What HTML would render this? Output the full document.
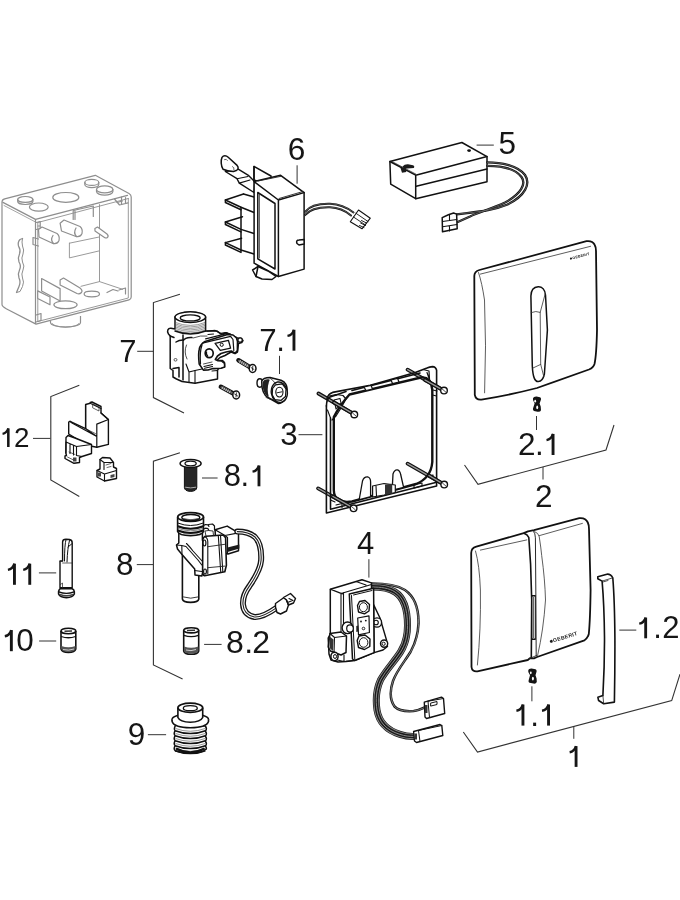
<!DOCTYPE html>
<html><head><meta charset="utf-8">
<style>
html,body{margin:0;padding:0;background:#fff;}
body{width:680px;height:900px;overflow:hidden;font-family:"Liberation Sans",sans-serif;}
svg{display:block;will-change:transform;}
.t{font-family:"Liberation Sans",sans-serif;fill:#161616;}
.one{stroke:#161616;fill:none;stroke-linecap:butt;}
.ld{stroke:#333;stroke-width:1;fill:none;}
.br{stroke:#333;stroke-width:1.1;fill:none;}
.k{stroke:#111;stroke-width:1.5;fill:#fff;stroke-linejoin:round;stroke-linecap:round;}
.kn{stroke:#111;stroke-width:1.5;fill:none;stroke-linejoin:round;stroke-linecap:round;}
.th{stroke:#222;stroke-width:0.7;fill:none;stroke-linecap:round;stroke-linejoin:round;}
.g{stroke:#8e8e8e;stroke-width:1.2;fill:#fff;stroke-linejoin:round;}
.gn{stroke:#8e8e8e;stroke-width:1.2;fill:none;stroke-linejoin:round;stroke-linecap:round;}
</style></head>
<body>
<svg width="680" height="900" viewBox="0 0 680 900">
<!-- LEADERS -->
<g class="ld">
<path d="M297.1 165.3V183.7"/>
<path d="M476.6 145.1H493.8"/>
<path d="M137.2 351.3H153.4"/>
<path d="M279.5 355.8V374"/>
<path d="M298.5 434.7H322.4"/>
<path d="M33 438.4H50.5"/>
<path d="M536.5 416V430"/>
<path d="M543 467V479.5"/>
<path d="M202 478H217.6"/>
<path d="M136.8 564.6H153.1"/>
<path d="M38.9 572.9H56.2"/>
<path d="M39.1 641H56.2"/>
<path d="M368.9 559.2V577.6"/>
<path d="M619.3 630.1H636.3"/>
<path d="M204.1 644.4H221.6"/>
<path d="M531.9 686.3V701.3"/>
<path d="M573.8 726.3V738.8"/>
<path d="M147.9 734.7H166.1"/>
</g>
<!-- BRACKETS -->
<g class="br">
<path d="M179.9 294.2L153.4 302.6V397.6L184 413"/>
<path d="M79.3 385.3L50.8 396.6V480L79.3 496.5"/>
<path d="M179.9 452.8L153.4 461.2V665L182.6 679"/>
<path d="M464.5 465L478 484.25L606 450L614 425"/>
<path d="M463.3 732L477.5 752L671.7 700.6L680 674.2"/>
</g>
<!-- GREY JUNCTION BOX -->
<g id="jbox">
<path class="g" d="M2 304.6V202 Q2 199.5 4.7 198.8 L95.3 175.3 L129 193.5 Q131.2 194.7 131.2 197 V297 Q131.2 299.2 129 299.8 L36 324.1 L6.2 308.7 Q2 306.5 2 304.6Z"/>
<path class="gn" d="M2.9 202.4L35.5 219.4L127.5 195.4"/>
<path class="gn" style="stroke-width:0.8" d="M4 205.5L35.5 222"/>
<path class="gn" d="M35.5 219.5V323.5"/>
<path class="gn" style="stroke-width:0.9" d="M37.8 222.5V321.5L128.3 298V198.5"/>
<path class="gn" style="stroke-width:0.9" d="M37.8 222.5L128.3 198.5"/>
<path class="gn" style="stroke-width:0.9" d="M99.5 204.6V281.6"/>
<path class="gn" style="stroke-width:0.9" d="M81 286.3L99.5 281.6L122.6 289.3"/>
<!-- top holes -->
<ellipse class="g" cx="25.3" cy="199.4" rx="7.6" ry="2.9"/>
<path class="gn" d="M17.7 199.4v2.2a7.6 2.9 0 0 0 15.2 0v-2.2"/>
<ellipse class="g" cx="38.8" cy="207.1" rx="9.4" ry="4.1"/>
<ellipse class="g" cx="65.8" cy="197.4" rx="13" ry="4.9"/>
<ellipse class="g" cx="91.8" cy="182.4" rx="7" ry="3"/>
<path class="gn" d="M84.8 182.4v2.2a7 3 0 0 0 14 0v-2.2"/>
<ellipse class="g" cx="104.7" cy="189.4" rx="8.2" ry="3.5"/>
<path class="gn" d="M96.5 189.4v2.2a8.2 3.5 0 0 0 16.4 0v-2.2"/>
<!-- corner tabs -->
<path class="gn" d="M114.5 199l5 6l8.5 -2.2M121.5 197v7M125.5 197.5v6"/>
<path class="gn" d="M36.2 222.5l4 -1v7l-4 1M38 226l2.2 0"/>
<path class="gn" d="M117 202.5l5.5 -1.5"/>
<!-- upper tab -->
<path class="gn" d="M73.2 219.5V210.5L93.3 206V216.5M75 211v8.5"/>
<!-- pegs -->
<path class="g" d="M38.5 229.5L42 227L57 233.5Q60 236 59 240.5Q57.5 244.5 53 243.5L39 237Z"/>
<path class="gn" d="M53.5 243.5Q50 240 53 235.5"/>
<path class="gn" d="M33 237.5V244.5L38.5 246M33 237.5L38.5 239"/>
<path class="g" d="M60.1 223.2L64 220L80 226.5Q83 229 82 233.5Q80.5 237.5 76 236.5L61.5 231Z"/>
<path class="gn" d="M76.5 236.5Q73 233 76 228"/>
<path class="g" d="M94.9 228.6L97.5 227L107 234Q109 236 107.5 237.5Q106 238.5 104.5 237.5L95 231Z"/>
<path class="gn" style="stroke-width:0.9" d="M69.4 243.2L98.7 237.1M69.4 243.2V257.9L98.7 251"/>
<!-- side zigzag clip -->
<path class="gn" style="stroke-width:1.3" d="M22.5 238.5L20 239.5Q17.5 242 18.5 246Q21 250 19.5 254Q17.5 258 19 262Q21.5 266 19.5 270Q17.5 274 19 278Q21 282 19 286.5L17.5 290L16.5 292.5"/>
<path class="gn" style="stroke-width:1" d="M22.5 238.5Q21.5 242 22.5 246Q24.5 250 23 254Q21 258 22.5 262Q25 266 23 270Q21 274 22.5 278Q24.5 282 22.5 286.5L20 291.5L16.5 292.5"/>
<!-- bottom floor parts -->
<path class="g" d="M41.6 278.5L60.1 288.6V301L41.6 291Z"/>
<path class="g" d="M37.7 290.9L50 297V304.8L37.7 298.5Z"/>
<path class="g" d="M60.1 280L63.5 278L80 288Q83 290.5 81.5 292.5Q79.5 294.5 77 293.5L60.1 285Z"/>
<ellipse class="g" cx="65.5" cy="304.8" rx="11.6" ry="3.9"/>
<ellipse class="g" cx="91.8" cy="294" rx="7.7" ry="2.8"/>
<path class="gn" d="M107 292.5l6 -3l5 1.5M119 290l6.5 -2v6"/>
<path class="gn" d="M36 315l5 -1.5v7l-5 1.5"/>
<path class="g" d="M50.5 321v1.5a15 4.6 0 0 0 30 0v-6.5"/>
<path class="gn" style="stroke-width:0.9" d="M52 323.5a13.5 3.5 0 0 0 27 0"/>
</g>
<!-- BATTERY 5 -->
<g id="bat">
<path class="k" d="M389.9 161.5L461.9 142.5L487 156.6V181.7L415.7 198.7L390.7 184.1Z"/>
<path class="kn" d="M389.9 161.5L415.7 175.2L487 156.6M415.7 175.2V198.7"/>
<path class="th" d="M392 161.5L415.7 174"/>
<path class="kn" style="stroke-width:1.5" d="M416.2 186.3L487 169"/>
<ellipse cx="469.1" cy="150.6" rx="1.9" ry="1.3" fill="#111"/>
<path d="M402.5 166.5Q404.5 164 408 164.2L413 165.2Q415 166 413.8 168L404.5 168.8Z" fill="#1a1a1a"/><path d="M400.5 168L405.5 167.2L406.3 172L402 172.8Z" fill="#1a1a1a"/>
<g fill="none" stroke-linecap="round">
<path d="M487.2 162.3C501 162.3 518 165.5 525 175C531 184 525 196 507.5 204.5C492 211 476 211.8 456.6 214.3" stroke="#111" stroke-width="2.3"/>
<path d="M487.2 165.8C500 165.8 515 168.5 521.5 177C526.5 184 521 194 505 202.5C492 208.5 478 212.5 470 216.5L456.6 222.5" stroke="#111" stroke-width="2.3"/>
<path d="M487.2 162.3C501 162.3 518 165.5 525 175C531 184 525 196 507.5 204.5C492 211 476 211.8 456.6 214.3" stroke="#888" stroke-width="0.6"/>
<path d="M487.2 165.8C500 165.8 515 168.5 521.5 177C526.5 184 521 194 505 202.5C492 208.5 478 212.5 470 216.5L456.6 222.5" stroke="#888" stroke-width="0.6"/>
</g>
<path class="k" style="stroke-width:1.5" d="M442.2 217.6L448.4 214.7L453.6 213L456.6 214.1L457.2 228.8L442.5 231.8Z"/>
<path class="kn" style="stroke-width:1.1" d="M442.5 221.5L456.8 219.5M442.5 226.8L457 224.5M449.5 215.3V220.5M449.5 226V231"/>
</g>
<!-- COMPONENT 6 -->
<g id="c6">
<!-- back vertical panel & arm -->
<path class="k" d="M254 166.5L271 176L271 186L254 180Z"/>
<path class="kn" d="M254 166.5V180"/>
<!-- fins -->
<g class="kn">
<path d="M225.4 200L243.5 194M225.4 200L241 207.3L254 212.5"/>
<path d="M225.4 200V202.5L241 209.8"/>
<path d="M225.4 222L242.5 216.7M225.4 222L241 229.4L254 233.5"/>
<path d="M225.4 222V224.5L241 231.9"/>
<path d="M225.4 242.6L241.6 238.2M225.4 242.6L241 250L254 254"/>
<path d="M225.4 242.6V245L241 252.4"/>
<path d="M241 207.3V251.5"/>
<path d="M243.5 194L254 197"/>
</g>
<!-- arm / latch on top -->
<path class="k" style="stroke-width:1.4" d="M225.3 171.5L237 168.4L248.8 175.7L254.5 181.6L254 192.5L239.3 183.1L237 178.7Z"/>
<path class="kn" style="stroke-width:1.1" d="M237 178.7L248 176.5M239.3 183.1L250 180"/>
<path class="k" style="stroke-width:1.5" d="M222 157.4C223.5 155.3 226 155.2 228.2 157.2L237.1 165.4C238.6 167 238.4 169.2 236.8 170.2L233.4 171.6C230 171.4 226.2 170.7 223 169.2C221 166 220.6 160.5 222 157.4Z"/>
<path class="th" d="M224.5 159.5q2 -1 3 1M232.5 166.5q2 0.5 1.5 3.5"/>
<!-- main box -->
<path class="k" d="M254.1 181.6L280.6 175.3L304.1 192.6V269.1L278.4 276.5L254.1 263.2Z"/>
<path class="kn" d="M254.1 181.6L278.4 200L304.1 192.6M278.4 200V276.5"/>
<path class="th" style="stroke-width:0.9" d="M258 181L281 176.3M279 198.5L303 191.5"/>
<!-- front opening -->
<path class="kn" d="M257.8 192.5L275 203.5V269L257.8 258.8Z"/>
<path class="th" d="M259.5 193.5V258"/>
<!-- foot -->
<path class="k" d="M252.6 270L258 266.5L268 271L276 276.5L272 279.5L262 279L256 276.5Z"/>
<path class="kn" d="M258 266.5L256 276.5"/>
<!-- pin on right -->
<path class="k" d="M297 243.5C296 241 297 240 299 240L304.1 239.5V244L299 245Z"/>
<!-- cable -->
<g fill="none" stroke-linecap="round">
<path d="M305 211.8C310 205.5 318 203.5 330 203.8C340 204.2 347 207.5 353.5 212.5" stroke="#111" stroke-width="2"/>
<path d="M305 215.2C310 209 318 207 330 207.3C339 207.6 345 210.5 351 215.5" stroke="#111" stroke-width="2"/>
<path d="M305 211.8C310 205.5 318 203.5 330 203.8C340 204.2 347 207.5 353.5 212.5" stroke="#999" stroke-width="0.5"/>
<path d="M305 215.2C310 209 318 207 330 207.3C339 207.6 345 210.5 351 215.5" stroke="#999" stroke-width="0.5"/>
</g>
<path class="k" style="stroke-width:1.1" d="M350.3 221.8L358.5 210L370.3 218.2L362 228.8Z"/>
<path class="kn" style="stroke-width:0.9" d="M353.5 217L365.5 225M356 213.3L368 221.5M361.5 220.5l5 2.5M360.5 223l5 2.5M359.5 225.5l4.5 2"/>
</g>
<!-- COMPONENT 7 valve -->
<g id="c7">
<path class="k" style="stroke-width:1.5" d="M168.5 334C166.5 331 168 328 171 328.3L175 329V317.1A15.4 5.4 0 0 1 205.6 317.1V331L206.7 330.9L216.8 330.9L221.4 334.4L226.1 332.8L231.5 335.2L237.4 337.9L240.9 338.2L243 340.5L241.7 342.5L238.5 343.5L237.5 352L235 353.5L231 352L225 355.5L220 357.5L216.5 360.5L222.5 360.5L224.5 362.5L224.5 366.7L218.5 368.5L217.5 370.5V379L195 383.2L182 381.5L176.5 379L173 377V370.5L170.2 368.5V336Z"/>
<ellipse cx="190.3" cy="317.1" rx="15.3" ry="5.3" fill="#fff" stroke="#111" stroke-width="1.5"/>
<ellipse cx="190.2" cy="317.9" rx="10" ry="3" fill="#fff" stroke="#111" stroke-width="1.3"/>
<g class="th" style="stroke:#555;stroke-width:0.6">
<path d="M175.5 322.5Q190.3 328.5 205 322.5M175.5 324Q190.3 330 205 324M175.5 325.5Q190.3 331.5 205 325.5M175.5 327Q190.3 333 205 327M175.5 328.5Q190.3 334.5 205 328.5M175.5 330Q190.3 336 205 330"/>
</g>
<path class="kn" d="M175 331Q190.3 337 205.6 331"/>
<path class="kn" d="M170.2 336L174 337.5M183 335V380M183 341Q185 337 192 337.5"/>
<path class="kn" d="M176 342Q179 340 183 340"/>
<path class="th" style="stroke-width:0.8" d="M186.5 345Q183.5 352 187 359M193 338Q201 335 207 336"/>
<ellipse cx="175.5" cy="359.8" rx="1.5" ry="1.3" fill="none" stroke="#333" stroke-width="0.8"/>
<path class="kn" d="M173 368.5L179 367.5V377"/>
<!-- latch plate -->
<path class="k" style="stroke-width:1.6" d="M199.2 364C198.5 358 198.4 353 199.2 349.5C200 345.5 202 343 205 341.5L227.5 334.5L233 335L236.5 338L237.5 341.5L237.4 350.5L235 353.3L231.3 351L226 352L221 353.5L217.5 356L215.3 359.5L218 360.8L221.5 361L224.5 363.5L224.7 367L221 368.2L214 368.6L212.9 368.6L208 370L203.4 370.1Z"/>
<path class="kn" style="stroke-width:1.2" d="M205.6 338.9L227.6 333.4M203.4 342.9L230.6 336.3M230.6 336.3L233 339.5L233.8 350.5M202 345Q199.5 352 200.5 364"/>
<path class="kn" style="stroke-width:1.3" d="M215.1 343.3L228.4 340.3L230.6 348.1L220.3 350.3Z"/>
<circle cx="221.7" cy="344.8" r="1.6" fill="#fff" stroke="#111" stroke-width="1"/>
<ellipse cx="209.2" cy="353.2" rx="4" ry="4.4" fill="#fff" stroke="#111" stroke-width="1.7"/>
<path d="M206.5 351.5Q206 355 208 356.5" stroke="#111" stroke-width="1.2" fill="none"/>
<path class="kn" style="stroke-width:1.1" d="M204 366.5L212.5 364.5M204.5 368.3L212.5 366.5"/>
<path class="th" style="stroke-width:0.8" d="M203.5 364L212 362"/>
<circle cx="240.1" cy="340" r="2.2" fill="#fff" stroke="#111" stroke-width="1.3"/>
<path class="kn" style="stroke-width:1.1" d="M195 370.5L202 369M195 370.5V383M217.5 370.5L212 371"/>
<path class="kn" style="stroke-width:1.1" d="M189 372V382M186 364L189 372L195 370.5"/>
<path class="kn" style="stroke-width:1.1" d="M207 331.1L215.1 330.4L221 333.4L225.4 332.6L230.6 334.1M208 334.5L213.5 334"/>
</g>
<!-- SCREWS for 7 -->
<g id="scr7">
<path d="M238.5 360.3L250.3 367.4" stroke="#111" stroke-width="4.6" stroke-linecap="round"/>
<path d="M239 360.8L249.8 367.3" stroke="#666" stroke-width="2" stroke-linecap="round"/>
<path class="th" style="stroke:#eee;stroke-width:0.7" d="M240.5 360.3l-0.9 2M242.3 361.4l-0.9 2M244.1 362.5l-0.9 2M245.9 363.6l-0.9 2M247.7 364.7l-0.9 2"/>
<ellipse cx="252.6" cy="368.5" rx="3.4" ry="4" fill="#fff" stroke="#111" stroke-width="1.5"/>
<path class="th" style="stroke-width:0.9" d="M251 367.5l3 2M252.8 366.3l-0.4 4.2"/>
<path d="M220.9 386.8L233.8 393.8" stroke="#111" stroke-width="4.6" stroke-linecap="round"/>
<path d="M221.4 387.3L233.3 393.7" stroke="#666" stroke-width="2" stroke-linecap="round"/>
<path class="th" style="stroke:#eee;stroke-width:0.7" d="M223 386.8l-0.9 2M224.8 387.8l-0.9 2M226.6 388.8l-0.9 2M228.4 389.8l-0.9 2M230.2 390.8l-0.9 2"/>
<ellipse cx="236.2" cy="395" rx="3.4" ry="4" fill="#fff" stroke="#111" stroke-width="1.5"/>
<path class="th" style="stroke-width:0.9" d="M234.6 394l3 2M236.4 392.8l-0.4 4.2"/>
</g>
<!-- NOZZLE 7.1 -->
<g id="c71">
<ellipse cx="259.8" cy="383" rx="2.8" ry="4.2" fill="#fff" stroke="#111" stroke-width="1.4"/>
<path class="k" style="stroke-width:1.5" d="M261.8 381C263 378 266 377.5 270 377.5L281 380.3C285 382 287.5 386 287 391C286.5 398 283 403.5 278.5 403.5L268 397.5C263.5 395 261.5 390 261.8 381Z"/>
<path d="M262.8 382C264 379.5 266 379 268.5 379.2L269.8 379.8C267.5 385 267 391 268.8 396.8L267.5 396.2C264 394 262.3 389 262.8 382Z" fill="#222"/>
<ellipse cx="279.3" cy="392.2" rx="8" ry="10.3" fill="#fff" stroke="#111" stroke-width="1.4" transform="rotate(-10 279.3 392.2)"/>
<path class="kn" style="stroke-width:1.2" d="M275.5 384.8L282.3 383.8L286 388.8L285.5 396.5L281.2 400.3L274.8 399.6L272.2 394.8L272.6 388.4Z"/>
<ellipse cx="279.4" cy="392.1" rx="3.6" ry="4.9" fill="#fff" stroke="#111" stroke-width="1.1"/>
<path class="th" style="stroke-width:1" d="M277 392.8L282 391.8"/>
<path class="th" style="stroke-width:0.8" d="M270.5 378.5Q273.5 380 275.5 384M266 397.5Q270 400 274.8 399.6"/>
</g>
<!-- COMPONENT 12 -->
<g id="c12">
<path class="k" style="stroke-width:1.4" d="M85.6 404.5L90.2 403.3V402.5L92 402L101 406.5V413L108.4 419.5V444.4L96.8 447.3L90.5 446L86 444.5L68.7 434V422L70 421.3L85.6 428.6Z"/>
<path class="kn" style="stroke-width:1.2" d="M85.6 404.5V428.6M90.2 403.3L101 408.5M101 413L108.4 419.5M96.8 424.1L108.4 419.5M96.8 424.1V436.5M85.6 428.6L96.8 436.5M70 421.3L72 423L96.8 436.5M96.8 436.5V447.3"/>
<path class="th" d="M86.5 429.2L95.5 433.6M93 404l6 3v4l-6 -3z"/>
<!-- lower block -->
<path class="k" style="stroke-width:1.4" d="M66 437.5L68 435.5L75 438L80 440L91.5 444.5V453.5L82 456.5L79.5 457.5V462.5L74 463.3L65 458.5V456L66.5 455.5L65.8 453Z"/>
<path class="kn" style="stroke-width:1.1" d="M66 442L76.5 446.5L91.5 444.5M76.5 446.5V455.5L82 456.5M66 442V453M70 444.5V453.5M73.5 446V455"/>
<path class="th" d="M69 452l6 2.5M67.5 457l6 3"/>
<rect x="73" y="457.5" width="3.5" height="4" fill="#444"/>
<!-- small piece -->
<path class="k" style="stroke-width:1.4" d="M100 459.5L102.5 457.5L110 458L113.5 462.5V467L116.5 468.5V478.5L104.5 481L97 477V470.5L100 469Z"/>
<path class="kn" style="stroke-width:1.1" d="M97 470.5L104.5 474L116.5 470.5M104.5 474V481M100 459.5L104 462.5V469.5M104 462.5L113.5 462.5"/>
<path class="th" d="M106 465l5 -1.5M107 467.5l4 -1"/>
<rect x="98" y="472.5" width="3" height="4" fill="#444"/>
<path d="M110.5 475l4 -1v3l-4 1z" fill="#444"/>
</g>
<!-- FRAME 3 -->
<g id="c3">
<!-- back screws (behind) -->
<g stroke-linecap="round">
<path d="M318.5 393.5L353.8 414.1M407.6 369.7L443.5 390.3M318.1 488.4L353.1 507.9M407.6 463.7L443.7 484.3" stroke="#111" stroke-width="3.8"/>
<path d="M318.5 393.5L353.8 414.1M407.6 369.7L443.5 390.3M318.1 488.4L353.1 507.9M407.6 463.7L443.7 484.3" stroke="#999" stroke-width="1.4"/>
</g>
<!-- outer frame -->
<g class="kn" style="stroke-width:1.6">
<path d="M326.4 405.9V513L436.6 486V370.3Q435.8 366.8 432.5 366.6Q429.5 366.8 427 368L415.3 372.6L395 378.2L370.3 385.3L332.6 392.4Q328 394 327 398.5"/>
<path d="M330.5 418V509.3L436.6 482.2"/>
<path d="M326.4 405.9Q326.5 399 330 397L336 395"/>
<path d="M336 395L346 391.5M352 390.5L420 373"/>
</g>
<path class="kn" style="stroke-width:1.1" d="M327.5 410L330.5 418M330.5 500L335 502"/>
<!-- rod loop -->
<path d="M349.5 394.5L421 377.5Q431 376 432.3 390V462Q431 478 416 484L352 501.5Q334 504 333.8 490V417Q340 405 349.5 394.5Z" fill="none" stroke="#111" stroke-width="2.4" stroke-linejoin="round"/>
<!-- top-left bracket -->
<path class="kn" style="stroke-width:1.2" d="M329 396L336 394.5L343 395.5L346 399L341 408L336 416L332 420"/>
<path class="kn" style="stroke-width:1.1" d="M334 400L340 398.5L341 403L336 409Z"/>
<!-- top clips -->
<path class="k" style="stroke-width:1.2" d="M364 387L371 385.3L372.5 389L366 390.5Z"/>
<path class="k" style="stroke-width:1.2" d="M391 380L397.5 378.3L399 382L392.5 383.6Z"/>
<path class="kn" style="stroke-width:1.2" d="M423 369.5l6 1.5l0.5 8M427 372.5l3 8.5"/>
<path class="kn" style="stroke-width:1.1" d="M433 390l4 1M432.5 395l4 1"/>
<!-- bottom bumps -->
<path class="k" style="stroke-width:1.3" d="M359.3 499L362.5 481Q364 476.5 368 477Q370.6 478 370.6 482V496"/>
<path class="k" style="stroke-width:1.3" d="M392.2 489.4L393 474Q394.5 469.5 397.4 469.9Q400 470.5 400.8 475L403.5 486.8"/>
<path class="k" style="stroke-width:1.2" d="M372.6 486L384 483.5L395.3 485V492.5L384 495L372.6 497Z"/>
<path d="M385 484.5L392.2 483.8V493.5L385 494.8Z" fill="#333"/>
<path class="kn" style="stroke-width:1.1" d="M376 486L376.5 496M414 485l8 -2v3l-8 2zM427 476.5l6 -1.5v4M336 505l6 -1.5v4"/>
<!-- front screws -->
<g stroke-linecap="round">
<path d="M334 402.5L353.8 414.1M425 380L443.5 390.3M333 496.5L353.1 507.9M429 475.5L443.7 484.3" stroke="#111" stroke-width="3.8"/>
<path d="M334 402.5L353.8 414.1M425 380L443.5 390.3M333 496.5L353.1 507.9M429 475.5L443.7 484.3" stroke="#999" stroke-width="1.4"/>
</g>
<g fill="#fff" stroke="#111" stroke-width="1.4">
<circle cx="354.3" cy="414.5" r="3.3"/>
<circle cx="444" cy="390.6" r="3.3"/>
<circle cx="353.6" cy="508.3" r="3.3"/>
<circle cx="444.2" cy="484.6" r="3.3"/>
</g>
<path class="th" style="stroke-width:0.8" d="M352.5 413l3.5 3M442.2 389l3.5 3M351.8 506.8l3.5 3M442.4 483l3.5 3"/>
</g>
<!-- PLATE 2 -->
<g id="p2">
<path d="M474.3 276Q474.3 271.5 479.4 270L586.5 241.2Q592.5 240.5 594.5 244.5Q596 247 596 251L597 330Q596.5 355 594.5 364Q593.5 367.5 589 369.5L537 388Q510 395 481.5 399.6Q476 400.3 474.8 395Z" fill="#fff" stroke="#111" stroke-width="1.8" stroke-linejoin="round"/>
<path class="th" style="stroke:#333;stroke-width:0.8" d="M480.4 274.1L590.6 246.3M478.5 272.5Q482 283 484.5 300Q486.5 345 484.6 392.8"/>
<path d="M538.2 286.7C534 287 531 290 530.9 296L532.3 366C532.8 376 534.5 381.8 538.3 381.6C541.5 381.4 543.5 378 544.4 374L547.4 330L545.5 295C545 289.5 542 286.5 538.2 286.7Z" fill="none" stroke="#111" stroke-width="1.5"/>
<path class="th" style="stroke:#333;stroke-width:0.8" d="M531.2 312.6Q536 310.5 540.2 312.4L545.3 293.4M540.2 312.4L540.7 364.4L533 368M540.7 364.4L543.8 376.6"/>
<g transform="translate(570.5 259.8) rotate(-14.5)">
<circle cx="0.8" cy="-1.1" r="1.1" fill="#222"/>
<text x="2.3" y="0" style="font-family:'Liberation Sans',sans-serif;font-size:3.6px;font-weight:bold;fill:#222;letter-spacing:0.25px">GEBERIT</text>
</g>
</g>
<!-- 2.1 clip -->
<path d="M533 398.2Q533.5 396.5 536.5 396.6L540 397.2Q541.3 397.8 541 399.5L539.6 403.6L540.7 406.5L541 410.2Q540.3 412.2 537.5 411.8L534 411Q532.6 410.2 533 408.5L534.6 403.6L533 400Z" fill="#141414"/>
<ellipse cx="535.2" cy="401.2" rx="0.9" ry="1.4" fill="#fff"/>
<ellipse cx="537.2" cy="407.4" rx="1" ry="1.8" fill="#fff"/>
<!-- PLATE 1 -->
<g id="p1">
<path d="M471.2 553Q471.2 548 476.3 546.6L523.7 533.1L528 531.3L534 530.2L579.3 518.2Q585.5 517.5 587.8 522.5Q589 525 589 529L590.6 590Q590.2 620 588.8 634Q588 637.5 584.4 640.4L537.1 657L534 658.3L529.9 658.2L527.8 660L477.4 671.3Q472 672 471.5 667Z" fill="#fff" stroke="#111" stroke-width="1.8" stroke-linejoin="round"/>
<path class="th" style="stroke:#333;stroke-width:0.8" d="M480.4 550.1L526.8 539.9M539.1 535.7L582.4 523.4M475.5 551Q479.5 565 480.4 590Q481 630 477.4 665"/>
<path class="kn" style="stroke-width:1.6" d="M523.9 533.3Q527.5 534.5 528.8 537.5L530.6 564.4L531.7 600L531.3 658"/>
<path class="kn" style="stroke-width:0.9" d="M533.7 531.6Q535.2 533 535.4 537.8L535.9 600L536.2 656"/>
<path class="th" style="stroke:#333;stroke-width:0.8" d="M534.5 531.5Q538.5 533 539.2 536.5Q541 548 541.7 555.6Q545 580 545.5 600Q543.5 630 537.6 655.5"/>
<path d="M532 595.6H535.3V639.4H532Z" fill="#fff" stroke="#111" stroke-width="1"/>
<path d="M533.5 597V638" stroke="#666" stroke-width="1"/>
<path d="M531.8 595.8H535.5M531.8 639.2H535.5" stroke="#111" stroke-width="1.4"/>
<path class="th" style="stroke-width:0.8" d="M529.5 658.5L536.5 655.5"/>
<g transform="translate(550.6 643.2) rotate(-17)">
<circle cx="1.2" cy="-1.6" r="1.5" fill="#1a1a1a"/>
<text x="3.1" y="0" style="font-family:'Liberation Sans',sans-serif;font-size:5.2px;font-weight:bold;fill:#1a1a1a;letter-spacing:0.35px">GEBERIT</text>
</g>
</g>
<!-- 1.1 clip -->
<path d="M528.3 670Q528.7 668.3 531.5 668.4L535.5 669.2Q536.8 669.8 536.6 671.5L535.5 675.3L536.6 678.5L536.8 682Q536 684 533.5 683.6L529.5 682.8Q528.2 682 528.6 680.4L530 675.3L528.3 672Z" fill="#141414"/>
<ellipse cx="530.8" cy="672.8" rx="0.9" ry="1.4" fill="#fff"/>
<ellipse cx="532.9" cy="678.6" rx="1" ry="1.9" fill="#fff"/>
<!-- BAR 1.2 -->
<path d="M597.8 578.7V576.8L606.9 574.2Q610.5 573.8 612.8 577.9Q614.6 600 614.9 637.6Q615 670 614.4 702.1L603.7 703.7L598.6 700.5L597.9 697.3L602.9 695.6Q604.6 665 604.5 637.6Q604.2 605 602.1 581.1Z" fill="#fff" stroke="#111" stroke-width="1.6" stroke-linejoin="round"/>
<path class="th" style="stroke-width:0.8" d="M602.1 581.1L612.6 577.9M603 582l5 -1.5M602.9 695.6L603.7 703.7"/>
<!-- 8.1 screw -->
<g id="c81">
<path d="M184.4 466V487.5Q184.6 491.2 190.6 491.4Q196.6 491.2 196.8 487.5V466Z" fill="#262626" stroke="#111" stroke-width="1"/>
<path d="M185.2 487.2Q190.6 488.6 196 487.2" stroke="#ccc" stroke-width="0.8" fill="none"/>
<ellipse cx="190.6" cy="463.5" rx="10.5" ry="4.1" fill="#fff" stroke="#111" stroke-width="1.5"/>
<ellipse cx="190.6" cy="463.5" rx="5.6" ry="2.3" fill="#fff" stroke="#111" stroke-width="1.3"/>
</g>
<!-- VALVE 8 -->
<g id="c8">
<!-- connector block behind -->
<path class="k" style="stroke-width:1.5" d="M215.1 529.7L227.2 526.1L238.5 532.9V550.7L228 554L216 551Z"/>
<path class="kn" style="stroke-width:1.2" d="M215.1 529.7L225 535.5L238.5 532.9M225 535.5L227.5 537.5V553.5"/>
<path d="M227.5 547.5L239.4 544.5V548.5L227.5 552Z" fill="#1a1a1a"/>
<!-- tube -->
<path d="M182.4 553V599Q183 602.3 190.6 602.4Q198.2 602.3 198.8 599V555" fill="#fff" stroke="#111" stroke-width="1.6"/>
<path class="th" style="stroke-width:0.9" d="M183.5 597Q190.6 599.5 198 597"/>
<!-- neck + diagonal body -->
<path class="k" style="stroke-width:1.5" d="M178.8 532V543L176.5 545L177.5 549L182 554.4L194.7 569L195 575L201.8 576L204 568L204 545L202.4 540V532Z"/>
<path class="kn" style="stroke-width:1.1" d="M176.5 545L181.8 545.5L186 546.5L198 560L201.8 565M181.8 545.5L182 554.4M186.5 543.5Q190 547 193 551L203 562M194.7 570.5L201.8 571.5"/>
<!-- collar -->
<path d="M177.6 517V531.5Q179 535.5 190.6 535.6Q202.2 535.5 203.5 531.5V517" fill="#fff" stroke="#111" stroke-width="1.6"/>
<path d="M177.8 526.3Q190.6 531.3 203.3 526.3M177.8 530.5Q190.6 535.5 203.3 530.5" stroke="#111" stroke-width="2" fill="none"/>
<path d="M177.8 523Q190.6 528 203.3 523" stroke="#111" stroke-width="1" fill="none"/>
<path d="M177.8 528.3Q190.6 533.3 203.3 528.3" stroke="#666" stroke-width="0.8" fill="none"/>
<ellipse cx="190.6" cy="517" rx="12.9" ry="4.4" fill="#fff" stroke="#111" stroke-width="1.7"/>
<ellipse cx="190.8" cy="517.4" rx="9" ry="2.9" fill="#fff" stroke="#111" stroke-width="1.4"/>
<path d="M183 518.5Q190.8 521 198.5 518.5" stroke="#555" stroke-width="0.8" fill="none"/>
<!-- small bits behind collar -->
<path class="kn" style="stroke-width:1.2" d="M203.5 525.5l2 -1l2.5 0.3l1 1.5M203.5 529l2 -0.8l2.5 0.5l0.8 1.5M208.5 524.5l4 -0.5l2 2v4"/>
<!-- solenoid block -->
<path class="k" style="stroke-width:1.6" d="M202.8 539.5Q203.5 536.5 206 536.2L223.2 535L225.6 537.8L226.4 565.3L224.8 571.8L204.6 575.8Q202.5 575 202.6 572Z"/>
<path class="kn" style="stroke-width:1.1" d="M204.5 536.3Q207.8 538 207.8 542V573.5M218.3 535.5L220.7 571.8M220.5 535.3L222.8 571.5"/>
<path class="th" style="stroke-width:0.9" d="M207.8 546.7L224.8 544.3M207.8 567.7L224.8 566.1M206 536.2L205 531L208.5 530.5L213 531L213.5 535.5"/>
<ellipse cx="204.5" cy="543" rx="1.4" ry="3" fill="#fff" stroke="#111" stroke-width="1.2"/>
<ellipse cx="205" cy="571.5" rx="1.4" ry="2.5" fill="#fff" stroke="#111" stroke-width="1.2"/>
</g>
<!-- cable 8 -->
<g fill="none" stroke-linecap="round">
<path d="M237.3 531.6C244 531.6 250.8 533.4 255 537C260 542 261.5 552 261.1 560.3C260.5 568 257 575 249.5 585.9C245 592 242.5 598 243 604.5C243.5 611 247 615.5 254.4 617C261 617.5 267 614.5 276.4 607.9" stroke="#151515" stroke-width="6"/>
<path d="M237.3 531.6C244 531.6 250.8 533.4 255 537C260 542 261.5 552 261.1 560.3C260.5 568 257 575 249.5 585.9C245 592 242.5 598 243 604.5C243.5 611 247 615.5 254.4 617C261 617.5 267 614.5 276.4 607.9" stroke="#fff" stroke-width="3.3"/>
<path d="M237.3 531.6C244 531.6 250.8 533.4 255 537C260 542 261.5 552 261.1 560.3C260.5 568 257 575 249.5 585.9C245 592 242.5 598 243 604.5C243.5 611 247 615.5 254.4 617C261 617.5 267 614.5 276.4 607.9" stroke="#222" stroke-width="1.1"/>
</g>
<path class="k" style="stroke-width:1.4" d="M275.5 603.5L284 597.5L286.5 600L288.5 605L286.5 611L280.5 614L277 612.5L275.5 607Z"/>
<path class="k" style="stroke-width:1.4" d="M283.5 597.5L290.5 593.5L295.5 598.5L293.5 603L288.5 605L286.5 600Z"/>
<path class="kn" style="stroke-width:1.1" d="M286.5 600L288.5 605M289 598.5l4 2M287.5 602.5l5 -2"/>
<!-- 8.2 -->
<g id="c82">
<path d="M183.7 630.3V651Q184.5 654.3 191.2 654.3Q197.9 654.3 198.7 651V630.3" fill="#fff" stroke="#111" stroke-width="1.6"/>
<path d="M184 646.5Q191.2 649 198.4 646.5V651Q197.5 653.7 191.2 653.8Q184.9 653.7 184 651Z" fill="#555"/>
<path d="M186 650Q191 651.5 196 649.5" stroke="#ddd" stroke-width="0.9" fill="none"/>
<path d="M183.9 635.3Q191.2 638 198.5 635.3" stroke="#111" stroke-width="1.4" fill="none"/>
<ellipse cx="191.2" cy="630.3" rx="7.5" ry="2.6" fill="#fff" stroke="#111" stroke-width="1.6"/>
<path d="M187 630.5L195 630.2" stroke="#333" stroke-width="1.5"/>
</g>
<!-- 11 -->
<g id="c11">
<path class="k" style="stroke-width:1.4" d="M62.6 561V542Q62.6 539.3 66 539.3L69.5 539.5Q72.3 540 72.2 543V587.8H60V561Z"/>
<path class="kn" style="stroke-width:1" d="M66 539.5Q64.5 545 64.5 561M69.5 540.5Q67.5 548 67 562M72.2 543.5L68 547"/>
<path class="th" d="M60 561.5L62.6 561M62.6 563L72 563"/>
<path d="M60 588.8Q59 589.5 58.6 591.5V594Q60 597.5 66.4 597.6Q72.8 597.5 74.3 594V591.5Q74 589.5 72.2 588.8Z" fill="#fff" stroke="#111" stroke-width="1.6"/>
<path d="M58.8 591.8Q66.4 594.8 74.1 591.8" stroke="#111" stroke-width="1.3" fill="none"/><path d="M60 594.5Q66.4 597 73 594.5" stroke="#444" stroke-width="1.4" fill="none"/>
<path class="th" d="M60.5 584.5L62.5 583V588"/>
</g>
<!-- 10 -->
<g id="c10">
<path d="M61 631V649Q62 652.3 68.4 652.4Q74.8 652.3 75.8 649V631" fill="#fff" stroke="#111" stroke-width="1.6"/>
<path d="M61.3 646Q68.4 648.5 75.5 646V649Q74.5 651.8 68.4 652Q62.3 651.8 61.3 649Z" fill="#555"/>
<path d="M63 649.5Q68.4 651 74 649" stroke="#ddd" stroke-width="0.9" fill="none"/>
<path d="M61.2 636.5Q68.4 639 75.6 636.5" stroke="#111" stroke-width="1.3" fill="none"/>
<ellipse cx="68.4" cy="631" rx="7.4" ry="2.7" fill="#fff" stroke="#111" stroke-width="1.6"/>
<path d="M64.5 631.2L72 631" stroke="#333" stroke-width="1.4"/>
</g>
<!-- 9 -->
<g id="c9">
<path d="M176 724.5 Q173.2 729.0 175.2 730.7 Q173.2 734.0 175.2 735.7 Q173.2 739.0 175.2 740.7 Q173.2 744.0 175.2 745.7 Q173.2 749.0 175.2 750.7 Q176 751 181 752.3 Q190.3 754 199.6 752.3 Q204.6 751 205.4 749.5 Q207.4 749.0 205.4 746.0 Q207.4 744.0 205.4 741.0 Q207.4 739.0 205.4 736.0 Q207.4 734.0 205.4 731.0 Q207.4 729.0 205.4 726.0 Z" fill="#fff" stroke="#111" stroke-width="1.5" stroke-linejoin="round"/>
<path d="M175.2 730.7Q190.3 736.5 205.4 730.7" fill="none" stroke="#111" stroke-width="1.5"/>
<path d="M175.5 728.5Q190.3 734.0 205.2 728.5" fill="none" stroke="#666" stroke-width="0.7"/>
<path d="M175.2 735.7Q190.3 741.5 205.4 735.7" fill="none" stroke="#111" stroke-width="1.5"/>
<path d="M175.5 733.5Q190.3 739.0 205.2 733.5" fill="none" stroke="#666" stroke-width="0.7"/>
<path d="M175.2 740.7Q190.3 746.5 205.4 740.7" fill="none" stroke="#111" stroke-width="1.5"/>
<path d="M175.5 738.5Q190.3 744.0 205.2 738.5" fill="none" stroke="#666" stroke-width="0.7"/>
<path d="M175.2 745.7Q190.3 751.5 205.4 745.7" fill="none" stroke="#111" stroke-width="1.5"/>
<path d="M175.5 743.5Q190.3 749.0 205.2 743.5" fill="none" stroke="#666" stroke-width="0.7"/>
<path d="M175.2 750.7Q190.3 756.5 205.4 750.7" fill="none" stroke="#111" stroke-width="1.5"/>
<path d="M175.5 748.5Q190.3 754.0 205.2 748.5" fill="none" stroke="#666" stroke-width="0.7"/>
<path d="M176 748.5Q190.3 756 204.6 748.5" fill="none" stroke="#111" stroke-width="2.2"/>
<ellipse cx="190.3" cy="719.4" rx="18.2" ry="5.4" fill="#fff" stroke="#111" stroke-width="1.6"/>
<path d="M172.1 719.4V721.5Q174 727.5 190.3 727.8Q206.6 727.5 208.5 721.5V719.4" fill="#fff" stroke="#111" stroke-width="1.6"/>
<path d="M177.9 707.7V717.5Q180 722 190.3 722.2Q200.6 722 202.7 717.5V707.7" fill="#fff" stroke="#111" stroke-width="1.6"/>
<ellipse cx="190.3" cy="707.7" rx="12.4" ry="4.6" fill="#fff" stroke="#111" stroke-width="1.7"/>
<ellipse cx="190.3" cy="708.2" rx="7" ry="2.5" fill="#fff" stroke="#111" stroke-width="1.3"/>
</g>
<!-- COMPONENT 4 -->
<g id="c4">
<!-- cables -->
<g fill="none" stroke-linecap="round">
<path d="M372 583.5C385 583.5 396 584.5 405 590C415 597 418.8 610 418.5 623.6C418 635 416 642 410.5 652C405 661 397 670 393 681C390 690 390 700 394.5 706.5C399 711 407 711.5 413.6 711C418 710.5 421.5 709 425.3 707.2" stroke="#1a1a1a" stroke-width="2.5"/>
<path d="M372 583.5C385 583.5 396 584.5 405 590C415 597 418.8 610 418.5 623.6C418 635 416 642 410.5 652C405 661 397 670 393 681C390 690 390 700 394.5 706.5C399 711 407 711.5 413.6 711C418 710.5 421.5 709 425.3 707.2" stroke="#8a8a8a" stroke-width="0.9"/>
<path d="M372 587C381 587 389 588 395 592C403 597 407.5 608 407.5 625.5C407.5 637 405 645 400.5 652C394 662 386 670 380.5 680C376 690 375.5 700 377 710C379 722 386 730 400 734.4C405 736 409.5 736.5 413.6 736.4" stroke="#1a1a1a" stroke-width="7"/>
<path d="M372 587C381 587 389 588 395 592C403 597 407.5 608 407.5 625.5C407.5 637 405 645 400.5 652C394 662 386 670 380.5 680C376 690 375.5 700 377 710C379 722 386 730 400 734.4C405 736 409.5 736.5 413.6 736.4" stroke="#8a8a8a" stroke-width="5.6"/>
<path d="M372 587C381 587 389 588 395 592C403 597 407.5 608 407.5 625.5C407.5 637 405 645 400.5 652C394 662 386 670 380.5 680C376 690 375.5 700 377 710C379 722 386 730 400 734.4C405 736 409.5 736.5 413.6 736.4" stroke="#1a1a1a" stroke-width="3.8"/>
<path d="M372 587C381 587 389 588 395 592C403 597 407.5 608 407.5 625.5C407.5 637 405 645 400.5 652C394 662 386 670 380.5 680C376 690 375.5 700 377 710C379 722 386 730 400 734.4C405 736 409.5 736.5 413.6 736.4" stroke="#8a8a8a" stroke-width="1"/>
</g>
<!-- connectors -->
<path class="k" style="stroke-width:1.4" d="M424.3 702.2L441.5 697.2L443.5 698.5L444.7 713.5L426.5 718.5L425 717Z"/>
<path class="kn" style="stroke-width:1" d="M428 701.2L429.5 717.5M428 701.2L443.5 698.5M431 703l6 -1.5v3l-6 1.5z"/>
<rect x="425" y="705" width="2.5" height="8" fill="#333"/>
<path class="k" style="stroke-width:1.4" d="M413.6 731.5L440 724.5L441.8 725.5L442.8 735.5L416.5 742.5L414.5 741Z"/>
<path class="kn" style="stroke-width:1" d="M418.5 730.5L420 741.5M418.5 730.5L441.8 725.5"/>
<rect x="414.5" y="733.5" width="2.5" height="6" fill="#333"/>
<!-- back box -->
<path class="k" style="stroke-width:1.5" d="M330.3 589.3L362 579.8L371.5 582.9V590L374.1 652.6L354.6 660.5L346 661.5L338 662L331 660L329 654L328.2 638L330.3 634Z"/>
<path class="kn" style="stroke-width:1.1" d="M330.3 589.3L341 593.5L371.5 584.5M341 593.5V632M343.5 592.5V628M356 581.5L366 585M334 590.5L343 594"/>
<!-- right flange -->
<path class="k" style="stroke-width:1.4" d="M373.6 604.6L380 618L386.5 640L387.5 646.5L383 650L374.1 652.6Z"/>
<circle cx="377" cy="622.5" r="4.6" fill="#fff" stroke="#111" stroke-width="1.4"/>
<circle cx="376" cy="622.5" r="2.3" fill="#fff" stroke="#111" stroke-width="1.1"/>
<circle cx="384.1" cy="643.6" r="3.6" fill="#fff" stroke="#111" stroke-width="1.4"/>
<circle cx="383.6" cy="643.8" r="1.6" fill="#fff" stroke="#111" stroke-width="1"/>
<!-- front face -->
<path class="k" style="stroke-width:1.5" d="M349.3 594L373.6 588.2L374.1 652.6L354.6 660.5L352.5 659Z"/>
<path class="kn" style="stroke-width:1" d="M351.5 595.5L354.8 659.5M353.5 595L372 590.5"/>
<!-- hex nuts -->
<path class="k" style="stroke-width:1.4" d="M359.5 601.5L365 600.5L369.5 604.5L369 611L364.5 613.8L358.5 612L357.5 605.5Z"/>
<ellipse cx="363.4" cy="607.2" rx="4" ry="4.5" fill="#fff" stroke="#111" stroke-width="1"/>
<path class="k" style="stroke-width:1.4" d="M359 636L365 635L370 639L369.8 646.5L364.5 649.5L358.5 647.5L357.2 640.5Z"/>
<ellipse cx="363.6" cy="642.5" rx="4.3" ry="4.8" fill="#fff" stroke="#111" stroke-width="1"/>
<!-- board -->
<path class="k" style="stroke-width:1.2" d="M357.7 618L369 615.8L369.4 632.5L358.5 634.8Z"/>
<circle cx="361" cy="621.5" r="0.9" fill="#111"/><circle cx="365.8" cy="620.6" r="0.9" fill="#111"/>
<circle cx="363.5" cy="628.5" r="1.3" fill="#fff" stroke="#111" stroke-width="0.9"/>
<path d="M356.3 626l2 -0.4v6l-2 0.4z" fill="#222"/>
<!-- left knob -->
<ellipse cx="347.5" cy="627.8" rx="5.4" ry="5.8" fill="#fff" stroke="#111" stroke-width="1.4"/>
<ellipse cx="350" cy="628.5" rx="3.3" ry="3.6" fill="#fff" stroke="#111" stroke-width="1.2"/>
<!-- left lower block -->
<path class="k" style="stroke-width:1.5" d="M330 633.5L341 632L346.5 636L346 652.5L341 655L330.5 651L328.2 647Z"/>
<path class="kn" style="stroke-width:1.1" d="M330 633.5L334.5 637.5L346.5 636M334.5 637.5L334 653"/>
<path d="M329.5 636.5L333.5 639.5L333 651L329.5 648Z" fill="#333"/>
<!-- rollers bottom-left -->
<ellipse cx="334.5" cy="656.5" rx="3.6" ry="4.2" fill="#fff" stroke="#111" stroke-width="1.5"/>
<ellipse cx="335" cy="656.5" rx="1.5" ry="2" fill="#fff" stroke="#111" stroke-width="1"/>
<path class="kn" style="stroke-width:1.1" d="M337.5 660L344 661.5L354 660.5M344 655V661.5"/>
</g>

<g style="will-change:transform">
<text class="t" style="font-size:31.6px" x="287.85" y="159.90">6</text>
<text class="t" style="font-size:31.5px" x="498.57" y="153.80">5</text>
<text class="t" style="font-size:31px" x="119.21" y="361.50">7</text>
<text class="t" style="font-size:31.3px" x="259.13" y="350.70">7</text>
<text class="t" style="font-size:31.3px" x="276.20" y="350.70">.</text>
<path class="one" style="stroke-width:2.88" d="M293.96 350.70V329.77"/><path class="one" style="stroke-width:2.45" d="M287.47 335.90C290.39 335.43 292.76 333.55 293.96 329.77"/>
<text class="t" style="font-size:31.3px" x="280.16" y="444.80">3</text>
<path class="one" style="stroke-width:2.56" d="M8.32 447.00V428.47"/><path class="one" style="stroke-width:2.17" d="M2.56 433.85C5.15 433.43 7.12 431.77 8.32 428.47"/>
<text class="t" style="font-size:27.8px" x="13.97" y="447.00">2</text>
<text class="t" style="font-size:31.5px" x="517.99" y="455.00">2</text>
<text class="t" style="font-size:31.5px" x="535.12" y="455.00">.</text>
<path class="one" style="stroke-width:2.90" d="M553.05 455.00V433.93"/><path class="one" style="stroke-width:2.46" d="M546.52 440.10C549.46 439.63 551.85 437.74 553.05 433.93"/>
<text class="t" style="font-size:31.5px" x="534.99" y="507.40">2</text>
<text class="t" style="font-size:31px" x="223.68" y="486.30">8</text>
<text class="t" style="font-size:31px" x="240.54" y="486.30">.</text>
<path class="one" style="stroke-width:2.85" d="M258.97 486.30V465.57"/><path class="one" style="stroke-width:2.42" d="M252.55 471.64C255.44 471.17 257.77 469.31 258.97 465.57"/>
<text class="t" style="font-size:31.5px" x="115.89" y="575.20">8</text>
<path class="one" style="stroke-width:2.90" d="M14.45 584.80V563.73"/><path class="one" style="stroke-width:2.46" d="M7.92 569.90C10.86 569.43 13.25 567.54 14.45 563.73"/>
<path class="one" style="stroke-width:2.90" d="M29.75 584.80V563.73"/><path class="one" style="stroke-width:2.46" d="M23.22 569.90C26.16 569.43 28.55 567.54 29.75 563.73"/>
<path class="one" style="stroke-width:2.90" d="M11.35 651.20V630.13"/><path class="one" style="stroke-width:2.46" d="M4.82 636.30C7.76 635.83 10.15 633.94 11.35 630.13"/>
<text class="t" style="font-size:31.5px" x="16.29" y="651.20">0</text>
<text class="t" style="font-size:31px" x="356.88" y="553.70">4</text>
<path class="one" style="stroke-width:2.85" d="M645.67 638.30V617.57"/><path class="one" style="stroke-width:2.42" d="M639.25 623.64C642.14 623.17 644.47 621.31 645.67 617.57"/>
<text class="t" style="font-size:31px" x="653.29" y="638.30">.</text>
<text class="t" style="font-size:31px" x="662.18" y="638.30">2</text>
<text class="t" style="font-size:32px" x="226.10" y="653.20">8</text>
<text class="t" style="font-size:32px" x="244.25" y="653.20">.</text>
<text class="t" style="font-size:32px" x="252.35" y="653.20">2</text>
<path class="one" style="stroke-width:2.90" d="M522.95 725.60V704.53"/><path class="one" style="stroke-width:2.46" d="M516.42 710.70C519.36 710.23 521.75 708.34 522.95 704.53"/>
<text class="t" style="font-size:31.5px" x="530.32" y="725.60">.</text>
<path class="one" style="stroke-width:2.90" d="M548.55 725.60V704.53"/><path class="one" style="stroke-width:2.46" d="M542.02 710.70C544.96 710.23 547.35 708.34 548.55 704.53"/>
<path class="one" style="stroke-width:2.85" d="M576.07 766.90V746.17"/><path class="one" style="stroke-width:2.42" d="M569.65 752.24C572.54 751.77 574.87 749.91 576.07 746.17"/>
<text class="t" style="font-size:31.5px" x="127.65" y="745.10">9</text>
</g>
</svg>
</body></html>
